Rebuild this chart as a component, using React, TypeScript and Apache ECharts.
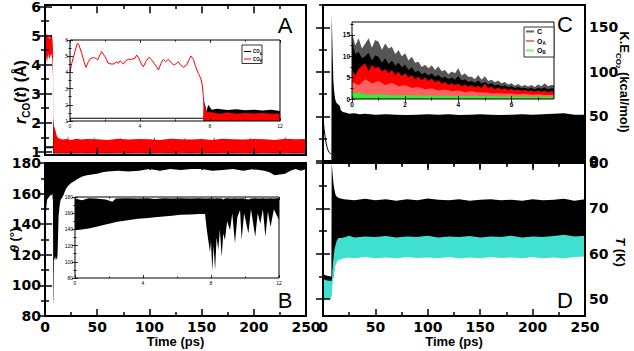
import React, { useEffect, useRef } from 'react';
import * as echarts from 'echarts';

// ---------- tick values ----------
const timeMajor = [0, 50, 100, 150, 200, 250];
const timeMinor = [25, 75, 125, 175, 225];
const rMajor = [1, 2, 3, 4, 5, 6];
const rMinor = [1.5, 2.5, 3.5, 4.5, 5.5];
const thMajor = [80, 100, 120, 140, 160, 180];
const thMinor = [90, 110, 130, 150, 170];
const keMajor = [0, 50, 100, 150];
const keMinor = [25, 75, 125, 175];
const tMajor = [50, 60, 70, 80];
const tMinor = [55, 65, 75];
const inTimeMajor = [0, 4, 8, 12];
const inTimeMinor = [2, 6, 10];
const inCTimeMajor = [0, 2, 4, 6];
const inCTimeMinor = [1, 3, 5, 7];
const inCKeMajor = [0, 5, 10, 15];
const inCKeMinor = [2.5, 7.5, 12.5, 17.5];

// ---------- Panel A: r_CO(t) bands [t, lo, hi] ----------
const aCOA = [[0,1.13,1.2],[7.6,1.13,1.2],[7.8,0.95,2.2],[8.5,0.95,1.9],[9.5,0.95,1.7],[11,0.95,1.5],[13,0.95,1.4],[21.5,0.95,1.4],[22,0.95,1.56],[22.5,0.95,1.4],[46.5,0.95,1.4],[47,0.95,1.52],[47.5,0.95,1.4],[71.5,0.95,1.4],[72,0.95,1.5],[72.5,0.95,1.4],[104.5,0.95,1.4],[105,0.95,1.54],[105.5,0.95,1.4],[133.5,0.95,1.4],[134,0.95,1.5],[134.5,0.95,1.4],[161.5,0.95,1.4],[162,0.95,1.53],[162.5,0.95,1.4],[196.5,0.95,1.4],[197,0.95,1.51],[197.5,0.95,1.4],[229.5,0.95,1.4],[230,0.95,1.55],[230.5,0.95,1.4],[250,0.95,1.4]];
const aCOB = [[0,4.15,5.35],[1,4.3,5.1],[2,4.1,5.0],[3,4.4,5.05],[4,4.2,4.9],[5,4.3,5.0],[6,4.4,5.05],[7,4.2,4.95],[7.6,3.6,4.6],[8,1.0,1.95],[9,0.98,1.85],[10,0.97,1.75],[11,0.98,1.6],[12,0.97,1.5],[14,0.98,1.46],[17,0.97,1.43],[20,0.98,1.45],[25,0.97,1.42],[30,0.98,1.46],[35,0.97,1.43],[40,0.98,1.45],[50,0.97,1.44],[60,0.98,1.42],[70,0.97,1.46],[80,0.98,1.43],[90,0.97,1.45],[100,0.98,1.44],[110,0.97,1.42],[120,0.98,1.46],[130,0.97,1.44],[140,0.98,1.43],[150,0.97,1.45],[160,0.98,1.42],[170,0.97,1.46],[180,0.98,1.44],[190,0.97,1.43],[200,0.98,1.45],[210,0.97,1.44],[220,0.98,1.42],[230,0.97,1.46],[240,0.98,1.44],[250,0.97,1.45]];

// ---------- Panel B: theta band [t, lo, hi] ----------
const bTheta = [[0,135,180],[0.5,140,180],[1,148,180],[1.5,153,180],[2,156,180],[3,157,180],[4,158,180],[5,159,180],[6,159,180],[7,160,180],[7.6,155,180],[8,87,180],[8.3,92,180],[8.6,116,180],[9,118,180],[9.5,117,180],[10,119,180],[10.5,116,180],[11,118,180],[11.5,117,180],[12,120,180],[12.5,132,180],[13,145,180],[14,152,180],[15,156,180],[17,158,180],[20,163,180],[22,165,180],[25,167,180],[28,168,180],[30,169,180],[35,171,180],[40,172,180],[45,172.5,180],[50,173,180],[55,174,180],[60,174.5,180],[70,175,180],[80,174.5,180],[90,175,180],[100,176,180],[110,175,180],[120,176,180],[130,175.5,180],[140,176,180],[150,176,180],[160,175,180],[170,175.5,180],[180,176,180],[190,175,180],[200,176,180],[210,175,180],[215,174,180],[220,172,180],[225,172.5,180],[230,173,180],[235,175,180],[240,176,180],[245,175,180],[250,176,180]];

// ---------- Panel C: kinetic energy ----------
const cFreeLine = [[0,48],[1,36],[2,27],[3,20],[4,15],[5,11.5],[6,9.5],[7,8.5],[8,8]];
const cKE = [[8,0,8],[8.3,0,165],[8.8,0,140],[9.3,0,115],[9.9,0,90],[10.5,0,80],[11.5,0,70],[12.5,0,66],[14,0,64],[16,0,62],[17,0,57],[19,0,55],[22,0,54],[25,0,53],[30,0,53.5],[35,0,52.5],[40,0,53],[50,0,52],[60,0,52.5],[70,0,52],[80,0,51.5],[90,0,52],[100,0,52.5],[110,0,52],[120,0,52.5],[130,0,51.5],[140,0,52],[150,0,52.5],[160,0,52],[170,0,51.5],[180,0,52],[190,0,52.5],[200,0,52],[210,0,52.5],[220,0,53],[230,0,53.5],[240,0,52],[250,0,52]];

// ---------- Panel D: temperature bands ----------
const dBlack = [[0,53.8,55.5],[3,53.6,55.2],[7.5,53.5,55],[8,53.5,55],[8.3,54,80],[9,54,78],[10,55,75.5],[11,57,74],[12,60,73],[13,62,72.6],[15,63.5,72.3],[20,63.5,72],[30,63.5,71.8],[40,63.5,72.1],[50,63.5,71.8],[60,63.5,72],[70,63.5,71.7],[80,63.5,72],[90,63.5,71.8],[100,63.5,72.2],[110,63.5,71.9],[120,63.5,71.8],[130,63.5,72],[140,63.5,71.7],[150,63.5,71.9],[160,63.5,72],[170,63.5,71.8],[180,63.5,71.9],[190,63.5,71.7],[200,63.5,72],[210,63.5,71.8],[220,63.5,71.9],[230,63.5,72.1],[240,63.5,71.7],[250,63.5,72]];
const dCyan = [[0,50,54.5],[3,50,54.2],[7.5,50,54],[8,50.5,54],[8.5,51,54.5],[9,53,56.5],[10,55,59],[11,56.5,61],[12,57.5,62],[13,58,62.8],[14,58.5,63.2],[15,58.6,63.4],[17,58.8,63.5],[20,59,63.6],[25,59.2,64],[30,59,63.6],[40,59.3,63.8],[50,59,63.7],[60,59.2,63.9],[70,59,63.6],[80,59.3,63.8],[90,59.1,63.7],[100,59.2,64],[110,59,63.6],[120,59.3,63.8],[130,59,63.7],[140,59.2,63.9],[150,59,63.6],[160,59.3,63.8],[170,59.1,63.7],[180,59.2,64],[190,59,63.6],[200,59.3,63.8],[210,59,63.7],[220,59.2,63.9],[230,59,64.2],[240,59.3,63.8],[250,59.4,64]];

// ---------- Inset A ----------
const iaRedLine = [[0,4.04],[0.1,4.56],[0.23,5.07],[0.42,5.8],[0.51,5.69],[0.67,5.18],[0.8,4.66],[0.91,4.31],[1.05,4.66],[1.18,4.87],[1.33,4.91],[1.47,4.87],[1.58,4.77],[1.68,5.01],[1.81,5.28],[1.94,5.07],[2.06,4.87],[2.19,4.56],[2.34,4.52],[2.53,4.52],[2.63,4.66],[2.76,4.56],[2.86,4.72],[3.05,4.52],[3.18,4.72],[3.33,4.81],[3.52,4.81],[3.71,4.87],[3.81,5.07],[3.94,4.87],[4.06,4.56],[4.19,4.35],[4.33,4.66],[4.51,4.93],[4.67,4.77],[4.8,4.56],[4.95,4.35],[5.05,4.15],[5.2,4.56],[5.33,4.81],[5.47,4.66],[5.62,4.81],[5.81,4.56],[5.96,4.46],[6.1,4.56],[6.19,4.66],[6.32,4.46],[6.48,4.31],[6.67,4.46],[6.8,4.77],[6.91,5.01],[7.05,4.81],[7.18,4.35],[7.33,3.94],[7.47,3.64],[7.56,3.22],[7.62,2.5],[7.67,1.88]];
const iaRedBand = [[7.62,1.0,2.3],[7.7,1.0,1.9],[7.8,1.0,1.6],[8,1.0,1.55],[8.3,1.0,1.5],[8.6,1.0,1.45],[9,1.0,1.52],[9.5,1.0,1.45],[10,1.0,1.5],[10.5,1.0,1.46],[11,1.0,1.5],[11.5,1.0,1.44],[12,1.0,1.47]];
const iaBlackLine = [[0,1.17],[7.62,1.17]];
const iaBlackBand = [[7.62,1.0,1.2],[7.68,1.0,2.2],[7.8,1.0,1.6],[7.9,1.0,2.0],[8.1,1.0,1.7],[8.4,1.0,1.75],[9,1.0,1.68],[9.5,1.0,1.72],[10,1.0,1.66],[10.5,1.0,1.7],[11,1.0,1.65],[11.5,1.0,1.7],[12,1.0,1.62]];

// ---------- Inset B ----------
const ibTheta = [[0,139,178],[0.4,140,176],[0.8,141,178.5],[1.2,143,178],[1.8,146,177],[2.2,148,174],[2.4,149,178],[3,151,178.5],[3.7,153,178],[4.3,154,178.5],[4.7,155,177.5],[5.2,156,178.5],[5.7,157,178],[6.2,158,178.5],[6.8,158.5,178],[7.3,159,178.5],[7.65,159,178],[7.75,140,178],[7.94,112,178.5],[8.0,125,178],[8.08,88,178.5],[8.15,120,178],[8.24,90,178],[8.33,130,178.5],[8.43,115,178],[8.52,140,178.5],[8.63,106,178],[8.72,135,177],[8.82,127,178],[8.95,150,178.5],[9.12,139,178],[9.25,160,178],[9.41,123,178.5],[9.55,155,178],[9.71,164,178],[9.8,127,178.5],[9.95,160,178],[10.2,135,177],[10.35,165,178],[10.6,131,178.5],[10.75,160,178],[10.9,147,178],[11.05,165,178.5],[11.2,131,178],[11.35,162,178],[11.5,143,178.5],[11.7,165,178],[11.9,156,178.5],[12,152,178]];

// ---------- Inset C: [t, top] (filled down to 0) ----------
const icGray = [[0,15.4],[0.125,12.5],[0.25,14.2],[0.375,11.8],[0.5,13.0],[0.625,14.2],[0.75,12.0],[0.875,13.8],[1,13.4],[1.125,11.5],[1.25,13.0],[1.375,11.8],[1.5,12.2],[1.625,10.5],[1.75,11.4],[1.875,10.0],[2,10.7],[2.125,9.0],[2.25,9.9],[2.375,8.5],[2.5,8.7],[2.625,7.5],[2.75,8.0],[2.875,7.2],[3,7.9],[3.125,6.8],[3.25,7.6],[3.375,6.5],[3.5,6.8],[3.625,5.8],[3.75,6.4],[3.875,6.0],[4,7.2],[4.125,5.5],[4.25,6.0],[4.375,5.2],[4.5,5.2],[4.625,4.6],[4.75,5.6],[4.875,4.5],[5,5.3],[5.125,4.2],[5.25,4.5],[5.375,3.9],[5.5,4.3],[5.625,3.7],[5.75,4.0],[5.875,3.4],[6,3.7],[6.125,3.1],[6.25,3.5],[6.375,3.0],[6.5,3.3],[6.625,2.9],[6.75,3.3],[6.875,2.8],[7,3.4],[7.125,3.0],[7.25,3.7],[7.375,3.0],[7.5,3.3],[7.6,3.2]];
const icBlack = [[0,13.4],[0.125,10.5],[0.25,11.0],[0.375,9.5],[0.5,10.0],[0.625,10.8],[0.75,9.0],[0.875,10.2],[1,9.8],[1.125,8.5],[1.25,9.5],[1.375,8.2],[1.5,9.0],[1.625,7.8],[1.75,8.5],[1.875,7.4],[2,8.0],[2.125,6.8],[2.25,7.4],[2.375,6.3],[2.5,6.6],[2.625,5.8],[2.75,6.2],[2.875,5.5],[3,6.0],[3.125,5.2],[3.25,5.6],[3.375,4.9],[3.5,5.2],[3.625,4.6],[3.75,5.0],[3.875,4.5],[4,5.4],[4.125,4.3],[4.25,4.6],[4.375,4.0],[4.5,4.2],[4.625,3.8],[4.75,4.3],[4.875,3.6],[5,4.0],[5.125,3.4],[5.25,3.7],[5.375,3.1],[5.5,3.4],[5.625,3.0],[5.75,3.2],[5.875,2.8],[6,3.0],[6.125,2.6],[6.25,2.8],[6.375,2.5],[6.5,2.6],[6.625,2.4],[6.75,2.6],[6.875,2.3],[7,2.6],[7.125,2.4],[7.25,2.7],[7.375,2.3],[7.5,2.5],[7.6,2.4]];
const icRed = [[0,6.8],[0.125,5.5],[0.25,7.0],[0.375,7.8],[0.5,8.3],[0.625,6.5],[0.75,8.0],[0.875,7.2],[1,7.6],[1.125,6.4],[1.25,7.0],[1.375,6.0],[1.5,6.8],[1.625,5.6],[1.75,6.3],[1.875,5.4],[2,6.0],[2.125,5.0],[2.25,5.6],[2.375,4.6],[2.5,5.2],[2.625,4.4],[2.75,5.0],[2.875,4.2],[3,4.8],[3.125,3.9],[3.25,4.4],[3.375,3.6],[3.5,4.0],[3.625,3.3],[3.75,3.7],[3.875,3.2],[4,3.6],[4.125,3.0],[4.25,3.4],[4.375,2.9],[4.5,3.2],[4.625,2.7],[4.75,3.1],[4.875,2.6],[5,3.6],[5.125,2.5],[5.25,2.9],[5.375,2.3],[5.5,2.7],[5.625,2.2],[5.75,2.5],[5.875,2.1],[6,2.4],[6.125,2.0],[6.25,2.2],[6.375,1.9],[6.5,2.1],[6.625,1.8],[6.75,2.0],[6.875,1.7],[7,2.0],[7.125,1.7],[7.25,1.9],[7.375,1.6],[7.5,1.8],[7.6,1.7]];
const icPink = [[0,4.0],[0.25,3.2],[0.5,4.6],[0.75,3.6],[1,4.2],[1.25,3.3],[1.5,3.8],[1.75,3.0],[2,3.3],[2.25,2.6],[2.5,2.8],[2.75,2.3],[3,2.5],[3.25,2.0],[3.5,2.2],[3.75,1.8],[4,2.0],[4.25,1.6],[4.5,1.8],[4.75,1.5],[5,1.6],[5.25,1.3],[5.5,1.4],[5.75,1.2],[6,1.3],[6.25,1.1],[6.5,1.2],[6.75,1.0],[7,1.1],[7.25,0.95],[7.6,1.0]];
const icGreen = [[0,1.8],[0.125,1.2],[0.25,1.5],[0.5,1.1],[0.75,1.0],[1,1.1],[1.5,0.9],[2,0.9],[2.5,0.8],[3,0.8],[4,0.7],[5,0.7],[6,0.6],[7,0.6],[7.6,0.6]];

const TICK_FONT = { fontFamily: 'DejaVu Sans', fontWeight: 'bold', fontSize: 14, color: '#000' };
const INSET_FONT = { fontFamily: 'Liberation Sans', fontSize: 5, color: '#000' };
const INSETC_FONT = { fontFamily: 'Liberation Sans', fontWeight: 'bold', fontSize: 6.5, color: '#000' };

function buildOption() {
  const grid: any[] = [];
  const xAxis: any[] = [];
  const yAxis: any[] = [];
  const series: any[] = [];

  function addPanel(c: any) {
    const [left, top, width, height] = c.rect;
    const zBg = c.inset ? 10 : 0;
    const zTop = c.inset ? 17 : 5;
    const gMain = grid.length;
    grid.push({ left, top, width, height, show: !!c.inset, backgroundColor: '#fff', borderWidth: 0, z: zBg });
    const gFrame = grid.length;
    grid.push({ left, top, width, height, show: true, backgroundColor: 'transparent', borderColor: '#000', borderWidth: c.border, z: zTop });
    const base = (min: number, max: number, gi: number, pos: string) => ({
      type: 'value', min, max, gridIndex: gi, position: pos, z: zTop,
      splitLine: { show: false }, axisLine: { show: false },
    });
    const tick = (vals: number[], len: number) => ({ show: true, inside: true, length: len, customValues: vals, lineStyle: { color: '#000', width: c.tickW } });
    const xi = xAxis.length;
    const xb: any = { ...base(c.x[0], c.x[1], gMain, 'bottom'), axisTick: tick(c.xMajor, c.majorLen),
      axisLabel: c.xLabels ? { show: true, customValues: c.xLabels, margin: c.xMargin, ...c.font } : { show: false } };
    if (c.xName) {
      xb.name = c.xName; xb.nameLocation = 'middle'; xb.nameGap = 19;
      xb.nameTextStyle = { fontFamily: 'Liberation Sans', fontWeight: 'bold', fontSize: 13, color: '#000' };
    }
    xAxis.push(xb);
    xAxis.push({ ...base(c.x[0], c.x[1], gMain, 'top'), axisTick: tick(c.xMajor, c.majorLen), axisLabel: { show: false } });
    xAxis.push({ ...base(c.x[0], c.x[1], gFrame, 'bottom'), axisTick: tick(c.xMinor, c.minorLen), axisLabel: { show: false } });
    xAxis.push({ ...base(c.x[0], c.x[1], gFrame, 'top'), axisTick: tick(c.xMinor, c.minorLen), axisLabel: { show: false } });
    const yi = yAxis.length;
    const lab = { show: true, customValues: c.yLabels, margin: c.yMargin, ...c.font };
    yAxis.push({ ...base(c.y[0], c.y[1], gMain, 'left'), axisTick: tick(c.yMajor, c.majorLen), axisLabel: c.ySide === 'left' ? lab : { show: false } });
    yAxis.push({ ...base(c.y[0], c.y[1], gMain, 'right'), axisTick: tick(c.yMajor, c.majorLen), axisLabel: c.ySide === 'right' ? lab : { show: false } });
    yAxis.push({ ...base(c.y[0], c.y[1], gFrame, 'left'), axisTick: tick(c.yMinor, c.minorLen), axisLabel: { show: false } });
    yAxis.push({ ...base(c.y[0], c.y[1], gFrame, 'right'), axisTick: tick(c.yMinor, c.minorLen), axisLabel: { show: false } });
    return { xi, yi };
  }

  function band(ax: any, rows: number[][], color: string, z: number) {
    const lo = (r: number[]) => (r.length === 2 ? 0 : r[1]);
    const hi = (r: number[]) => (r.length === 2 ? r[1] : r[2]);
    series.push({
      type: 'custom', xAxisIndex: ax.xi, yAxisIndex: ax.yi, z, silent: true, clip: true,
      data: rows.map((r) => [r[0], lo(r), hi(r)]),
      encode: { x: 0, y: [1, 2] },
      renderItem: (params: any, api: any) => {
        if (params.dataIndex !== 0) return null;
        const pts: number[][] = [];
        for (const r of rows) pts.push(api.coord([r[0], hi(r)]));
        for (let i = rows.length - 1; i >= 0; i--) pts.push(api.coord([rows[i][0], lo(rows[i])]));
        return { type: 'polygon', shape: { points: pts }, style: { fill: color } };
      },
    });
  }
  function line(ax: any, rows: number[][], color: string, z: number, w: number) {
    series.push({ type: 'line', xAxisIndex: ax.xi, yAxisIndex: ax.yi, z, silent: true, showSymbol: false,
      data: rows, lineStyle: { color, width: w } });
  }

  const mainCommon = { border: 2, tickW: 1.5, majorLen: 7, minorLen: 4, font: TICK_FONT, xMargin: 4, yMargin: 4 };
  const pA = addPanel({ ...mainCommon, rect: [45, 5, 261, 150], x: [0, 250], y: [0.9, 6.03],
    xMajor: timeMajor, xMinor: timeMinor, xLabels: null, yMajor: rMajor, yMinor: rMinor, yLabels: rMajor, ySide: 'left' });
  const pB = addPanel({ ...mainCommon, rect: [45, 163, 261, 153], x: [0, 250], y: [80, 180],
    xMajor: timeMajor, xMinor: timeMinor, xLabels: timeMajor, yMajor: thMajor, yMinor: thMinor, yLabels: thMajor, ySide: 'left', xName: 'Time (ps)' });
  const pC = addPanel({ ...mainCommon, rect: [323, 5, 262, 156], x: [0, 250], y: [0, 175],
    xMajor: timeMajor, xMinor: timeMinor, xLabels: null, yMajor: keMajor, yMinor: keMinor, yLabels: keMajor, ySide: 'right' });
  const pD = addPanel({ ...mainCommon, rect: [323, 163, 262, 153], x: [0, 250], y: [46.3, 80],
    xMajor: timeMajor, xMinor: timeMinor, xLabels: timeMajor, yMajor: tMajor, yMinor: tMinor, yLabels: tMajor, ySide: 'right', xName: 'Time (ps)' });

  const insetCommon = { inset: true, border: 1, tickW: 0.8, majorLen: 3, minorLen: 1.6, font: INSET_FONT, xMargin: 2, yMargin: 2 };
  const iA = addPanel({ ...insetCommon, rect: [70, 40, 210, 81], x: [0, 12], y: [1, 6],
    xMajor: inTimeMajor, xMinor: inTimeMinor, xLabels: inTimeMajor, yMajor: rMajor, yMinor: rMinor, yLabels: rMajor, ySide: 'left' });
  const iB = addPanel({ ...insetCommon, rect: [75, 197, 204, 81], x: [0, 12], y: [80, 180],
    xMajor: inTimeMajor, xMinor: inTimeMinor, xLabels: inTimeMajor, yMajor: thMajor, yMinor: thMinor, yLabels: thMajor, ySide: 'left' });
  const iC = addPanel({ ...insetCommon, font: INSETC_FONT, rect: [352, 22, 202, 77], x: [0, 7.6], y: [0, 18],
    xMajor: inCTimeMajor, xMinor: inCTimeMinor, xLabels: inCTimeMajor, yMajor: inCKeMajor, yMinor: inCKeMinor, yLabels: inCKeMajor, ySide: 'left' });

  // main panels
  band(pA, aCOA, '#000', 2);
  band(pA, aCOB, '#ff0000', 3);
  band(pB, bTheta, '#000', 2);
  line(pC, cFreeLine, '#000', 2, 1);
  band(pC, cKE, '#000', 2);
  band(pD, dBlack, '#000', 2);
  band(pD, dCyan, '#40e0d0', 3);
  // insets
  line(iA, iaBlackLine, '#000', 11, 1.2);
  band(iA, iaBlackBand, '#000', 11);
  band(iA, iaRedBand, '#ff0000', 12);
  line(iA, iaRedLine, '#ff0000', 12, 1);
  band(iB, ibTheta, '#000', 11);
  band(iC, icGray, '#555', 11);
  band(iC, icBlack, '#000', 12);
  band(iC, icRed, '#ff0000', 13);
  band(iC, icPink, '#ff6060', 14);
  band(iC, icGreen, '#33ee33', 15);

  const nameRich = (fs: number) => ({
    i: { fontFamily: 'Liberation Sans', fontStyle: 'italic', fontWeight: 'bold', fontSize: fs, lineHeight: fs + 6, color: '#000' },
    b: { fontFamily: 'Liberation Sans', fontWeight: 'bold', fontSize: fs, lineHeight: fs + 6, color: '#000' },
    s: { fontFamily: 'Liberation Sans', fontWeight: 'bold', fontSize: Math.round(fs * 0.65), lineHeight: Math.round(fs * 0.65), verticalAlign: 'bottom', color: '#000' },
    ss: { fontFamily: 'Liberation Sans', fontWeight: 'bold', fontSize: Math.round(fs * 0.45), lineHeight: Math.round(fs * 0.45), verticalAlign: 'bottom', color: '#000' },
  });
  const letter = (t: string, x: number, y: number) => ({ type: 'text', x, y, z: 30,
    style: { text: t, fontFamily: 'Liberation Sans', fontSize: 22, fill: '#000', align: 'center', verticalAlign: 'middle' } });
  const smallRich = (fs: number) => ({
    a: { fontFamily: 'Liberation Sans', fontWeight: 'bold', fontSize: fs, lineHeight: fs + 2, color: '#000' },
    s: { fontFamily: 'Liberation Sans', fontWeight: 'bold', fontSize: fs * 0.65, lineHeight: fs * 0.65, verticalAlign: 'bottom', color: '#000' },
  });

  const graphic: any[] = [
    letter('A', 285, 25), letter('B', 285, 300), letter('C', 565, 24), letter('D', 565, 300),
    { type: 'text', x: 20, y: 92, rotation: Math.PI / 2, z: 30,
      style: { text: '{i|r}{s|CO}{b|(}{i|t}{b|) (Å)}', align: 'center', verticalAlign: 'middle', rich: nameRich(16) } },
    { type: 'text', x: 14, y: 240, rotation: Math.PI / 2, z: 30,
      style: { text: '{i|θ}{b| (°)}', align: 'center', verticalAlign: 'middle', rich: nameRich(13) } },
    { type: 'text', x: 624, y: 82, rotation: -Math.PI / 2, z: 30,
      style: { text: '{b|K.E}{s|CO}{ss|2}{b| (kcal/mol)}', align: 'center', verticalAlign: 'middle', rich: nameRich(13) } },
    { type: 'text', x: 620, y: 252, rotation: -Math.PI / 2, z: 30,
      style: { text: '{i|T}{b| (K)}', align: 'center', verticalAlign: 'middle', rich: nameRich(13) } },
    // inset A legend
    { type: 'rect', z: 30, shape: { x: 242, y: 45, width: 20, height: 18.5 }, style: { fill: '#fff', stroke: '#000', lineWidth: 0.8 } },
    { type: 'line', z: 31, shape: { x1: 244, y1: 51.5, x2: 251, y2: 51.5 }, style: { stroke: '#000', lineWidth: 1 } },
    { type: 'line', z: 31, shape: { x1: 244, y1: 59, x2: 251, y2: 59 }, style: { stroke: '#ff0000', lineWidth: 1 } },
    { type: 'text', z: 31, x: 253, y: 51.5, style: { text: '{a|CO}{s|A}', verticalAlign: 'middle', rich: smallRich(4.5) } },
    { type: 'text', z: 31, x: 253, y: 59, style: { text: '{a|CO}{s|B}', verticalAlign: 'middle', rich: smallRich(4.5) } },
    // inset C legend
    { type: 'rect', z: 30, shape: { x: 524, y: 27, width: 30, height: 30 }, style: { fill: '#fff', stroke: '#333', lineWidth: 1 } },
    { type: 'line', z: 31, shape: { x1: 526, y1: 31.5, x2: 534, y2: 31.5 }, style: { stroke: '#666', lineWidth: 2 } },
    { type: 'line', z: 31, shape: { x1: 526, y1: 41, x2: 534, y2: 41 }, style: { stroke: '#ff7070', lineWidth: 2 } },
    { type: 'line', z: 31, shape: { x1: 526, y1: 50.5, x2: 534, y2: 50.5 }, style: { stroke: '#70ff70', lineWidth: 2 } },
    { type: 'text', z: 31, x: 537, y: 31.5, style: { text: '{a|C}', verticalAlign: 'middle', rich: smallRich(7) } },
    { type: 'text', z: 31, x: 537, y: 41, style: { text: '{a|O}{s|A}', verticalAlign: 'middle', rich: smallRich(7) } },
    { type: 'text', z: 31, x: 537, y: 50.5, style: { text: '{a|O}{s|B}', verticalAlign: 'middle', rich: smallRich(7) } },
  ];

  return { animation: false, backgroundColor: '#fff', grid, xAxis, yAxis, series, graphic };
}

export default function App() {
  const ref = useRef<HTMLDivElement>(null);
  useEffect(() => {
    document.body.style.margin = '0';
    const chart = echarts.init(ref.current!, null, { renderer: 'svg' });
    chart.setOption(buildOption() as any);
    return () => chart.dispose();
  }, []);
  return <div ref={ref} style={{ width: 634, height: 351 }} />;
}
